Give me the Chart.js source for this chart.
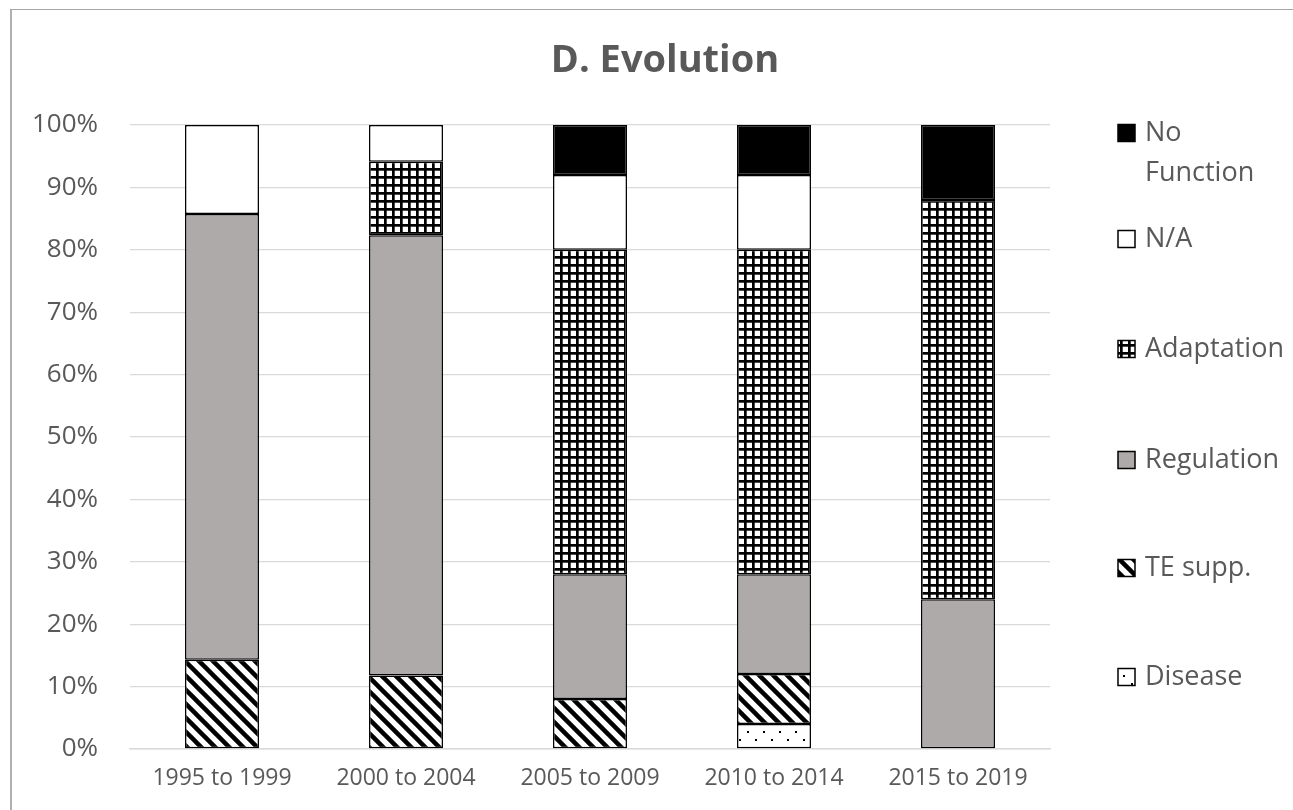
<!DOCTYPE html>
<html>
<head>
<meta charset="utf-8">
<script src="https://cdn.jsdelivr.net/npm/chart.js@4"></script>
<style>
  html, body { margin: 0; padding: 0; background: #fff; }
  #wrap { position: absolute; left: 0; top: 0; width: 1293px; height: 810px; }
</style>
</head>
<body>
<div id="wrap"><canvas id="c" width="1293" height="810"></canvas></div>
<script>
// ---- data ----
const categories = ['1995 to 1999', '2000 to 2004', '2005 to 2009', '2010 to 2014', '2015 to 2019'];
const disease    = [0, 0, 0, 4, 0];
const teSupp     = [14.29, 11.76, 8, 8, 0];
const regulation = [71.43, 70.59, 20, 16, 24];
const adaptation = [0, 11.76, 52, 52, 64];
const na         = [14.29, 5.88, 12, 12, 0];
const noFunction = [0, 0, 8, 8, 12];
const seriesNames = ['Disease', 'TE supp.', 'Regulation', 'Adaptation', 'N/A', 'No Function'];
const yTicks = [0, 10, 20, 30, 40, 50, 60, 70, 80, 90, 100];
const chartTitle = 'D. Evolution';

// ---- patterns ----
function makeTile(w, h, draw) {
  const c = document.createElement('canvas');
  c.width = w; c.height = h;
  const g = c.getContext('2d');
  draw(g, w, h);
  return document.getElementById('c').getContext('2d').createPattern(c, 'repeat');
}
const dotPattern = makeTile(16, 16, (g) => {
  g.fillStyle = '#fff'; g.fillRect(0, 0, 16, 16);
  g.fillStyle = '#000';
  g.fillRect(3, 3, 2, 2);
  g.fillRect(11, 11, 2, 2);
});
const stripePattern = makeTile(14, 14, (g) => {
  g.fillStyle = '#fff'; g.fillRect(0, 0, 14, 14);
  g.strokeStyle = '#000'; g.lineWidth = 4.5;
  for (const off of [-14, 0, 14]) {
    g.beginPath(); g.moveTo(off - 2, -2); g.lineTo(off + 16, 16); g.stroke();
  }
});
const gridPattern = makeTile(8, 8, (g) => {
  g.fillStyle = '#fff'; g.fillRect(0, 0, 8, 8);
  g.fillStyle = '#000';
  g.fillRect(0, 0, 8, 2.7);
  g.fillRect(0, 0, 2.7, 8);
});
const fills = [dotPattern, stripePattern, '#AEAAAA', gridPattern, '#FFFFFF', '#000000'];
const seriesData = [disease, teSupp, regulation, adaptation, na, noFunction];

const TEXT = '#595959';
const FONT = "'Open Sans', 'Liberation Sans', sans-serif";

const datasets = seriesData.map((arr, i) => ({
  label: seriesNames[i],
  data: arr.map(v => v === 0 ? null : v),
  backgroundColor: fills[i],
  borderColor: '#000',
  borderWidth: 1.5,
  borderSkipped: false,
  categoryPercentage: 1,
  barPercentage: 0.402
}));

const decorPlugin = {
  id: 'decor',
  beforeDraw(chart) {
    const ctx = chart.ctx;
    ctx.save();
    ctx.fillStyle = '#fff';
    ctx.fillRect(0, 0, chart.width, chart.height);
    ctx.fillStyle = '#b0b0b0';
    ctx.fillRect(10, 9, 2, chart.height - 9);
    ctx.fillStyle = '#a6a6a6';
    ctx.fillRect(10, 9, chart.width - 10, 1);
    ctx.restore();
  },
  afterDraw(chart) {
    const ctx = chart.ctx;
    ctx.save();
    // title
    ctx.fillStyle = TEXT;
    ctx.font = "bold 38px " + FONT;
    ctx.textAlign = 'center';
    ctx.textBaseline = 'middle';
    ctx.fillText(chartTitle, 665, 61);
    // legend (reverse order)
    const ys = [133, 239, 349, 460, 568, 677];
    const order = [5, 4, 3, 2, 1, 0];
    ctx.font = "27px " + FONT;
    ctx.textAlign = 'left';
    const sx = 1118, sw = 17, tx = 1145, maxW = chart.width - tx - 2;
    order.forEach((di, k) => {
      const ds = chart.data.datasets[di];
      const y = ys[k];
      ctx.fillStyle = ds.backgroundColor;
      ctx.fillRect(sx, y - sw / 2, sw, sw);
      ctx.strokeStyle = '#000';
      ctx.lineWidth = 1.5;
      ctx.strokeRect(sx, y - sw / 2, sw, sw);
      ctx.fillStyle = TEXT;
      const words = ds.label.split(' ');
      const lines = [];
      let cur = '';
      words.forEach(w => {
        const t = cur ? cur + ' ' + w : w;
        if (ctx.measureText(t).width > maxW && cur) { lines.push(cur); cur = w; } else cur = t;
      });
      lines.push(cur);
      lines.forEach((l, j) => ctx.fillText(l, tx, y + j * 40));
    });
    ctx.restore();
  }
};

new Chart(document.getElementById('c'), {
  type: 'bar',
  data: { labels: categories, datasets },
  options: {
    responsive: false,
    animation: false,
    layout: { padding: { left: 0, top: 125, right: 243, bottom: 0 } },
    plugins: { legend: { display: false }, title: { display: false }, tooltip: { enabled: false } },
    scales: {
      x: {
        stacked: true,
        grid: { display: false, drawTicks: false },
        border: { display: true, color: '#d9d9d9', width: 1.5 },
        ticks: { color: TEXT, font: { family: FONT, size: 23 }, padding: 16, maxRotation: 0 },
        afterFit(s) { s.height = 61; }
      },
      y: {
        stacked: true,
        min: 0, max: 100,
        afterBuildTicks(s) { s.ticks = yTicks.map(v => ({ value: v })); },
        grid: { color: '#d9d9d9', lineWidth: 1.3, drawTicks: false },
        border: { display: false },
        ticks: { color: TEXT, font: { family: FONT, size: 26 }, padding: 32, callback: v => v + '%' },
        afterFit(s) { s.width = 130; }
      }
    }
  },
  plugins: [decorPlugin]
});
</script>
</body>
</html>
